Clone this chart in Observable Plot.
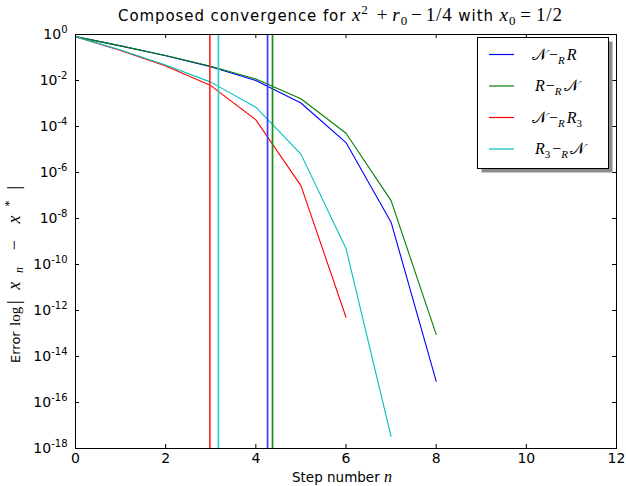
<!DOCTYPE html>
<html><head><meta charset="utf-8">
<script src="https://cdn.jsdelivr.net/npm/d3@7"></script>
<script src="https://cdn.jsdelivr.net/npm/@observablehq/plot@0.6"></script>
<style>body{margin:0;background:#fff}#chart{width:626px;height:486px}</style>
</head><body><div id="chart"></div>
<script>
// ---- data ----
const steps = [0, 1, 2, 3, 4, 5, 6, 7, 8];
const seriesNames = ["N-R", "R-N", "N-R3", "R3-N"];
const errNR   = [8.1e-1, 3.2e-1, 1.2e-1, 4.0e-2, 1.0e-2, 1.05e-3, 2.0e-5, 6.9e-9, 8.5e-16];
const errRN   = [8.1e-1, 3.2e-1, 1.23e-1, 4.2e-2, 1.17e-2, 1.6e-3, 5.1e-5, 6.0e-8, 9.1e-14];
const errNR3  = [8.1e-1, 2.0e-1, 4.3e-2, 6.0e-3, 1.95e-4, 2.7e-7, 5.1e-13];
const errR3N  = [8.1e-1, 2.1e-1, 4.7e-2, 8.5e-3, 6.9e-4, 6.3e-6, 5.0e-10, 3.3e-18];
const crossover = [4.26, 4.37, 2.98, 3.17];
const seriesColors = ["#0000ff", "#008000", "#ff0000", "#00bfbf"];
const vlineColors = ["#3a3aff", "#1a8c1a", "#ff2a2a", "#33cccc"];
const xTicks = [0, 2, 4, 6, 8, 10, 12];
const yTicks = [1, 1e-2, 1e-4, 1e-6, 1e-8, 1e-10, 1e-12, 1e-14, 1e-16, 1e-18];

const allSeries = [errNR, errRN, errNR3, errR3N];
const rows = [];
allSeries.forEach((vals, i) => vals.forEach((v, j) => rows.push({series: seriesNames[i], n: steps[j], err: v})));

const W = 626, H = 486, mL = 75, mR = 10, mT = 34, mB = 38;
const pw = W - mL - mR, ph = H - mT - mB;
const SANS = "DejaVu Sans", SERIF = "Liberation Serif";

const plot = Plot.plot({
  width: W, height: H,
  marginLeft: mL, marginRight: mR, marginTop: mT, marginBottom: mB,
  style: {fontFamily: SANS, fontSize: "12px", background: "white", color: "black", overflow: "visible"},
  x: {domain: [0, 12]},
  y: {type: "log", domain: [1e-18, 1]},
  color: {domain: seriesNames, range: seriesColors},
  marks: [
    Plot.line(rows, {x: "n", y: "err", z: "series", stroke: "series", strokeWidth: 1.1}),
    ...crossover.map((c, i) => Plot.ruleX([c], {x: d => d, stroke: vlineColors[i], strokeWidth: 1.7})),
    Plot.ruleX(xTicks, {x: d => d, insetTop: ph - 4, stroke: "black"}),
    Plot.ruleX(xTicks, {x: d => d, insetBottom: ph - 4, stroke: "black"}),
    Plot.ruleY(yTicks, {y: d => d, insetRight: pw - 4, stroke: "black"}),
    Plot.ruleY(yTicks, {y: d => d, insetLeft: pw - 4, stroke: "black"}),
    Plot.axisX({ticks: xTicks, tickSize: 0, tickPadding: 5, label: null, fontSize: 14, tickFormat: d => String(d)}),
    Plot.axisY({ticks: yTicks, tickSize: 0, tickPadding: 8, label: null, fontSize: 14,
      tickFormat: d => String(Math.round(Math.log10(d)))}),
    Plot.frame({stroke: "black"})
  ]
});

const svg = d3.select(plot);
// superscript exponents on the log ticks
svg.selectAll("g[aria-label='y-axis tick label'] text").each(function () {
  const e = this.textContent;
  const t = d3.select(this);
  t.text("");
  t.append("tspan").text("10");
  t.append("tspan").attr("dy", -6).attr("font-size", 10).text(e);
});

function rich(parent, parts, o) {
  const t = parent.append("text").attr("x", o.x).attr("y", o.y)
    .attr("text-anchor", o.anchor || "start")
    .attr("font-family", o.font || SANS).attr("font-size", o.size || 12).attr("fill", "black");
  if (o.rotate) t.attr("transform", `rotate(${o.rotate},${o.x},${o.y})`);
  if (o.length) t.attr("textLength", o.length).attr("lengthAdjust", "spacing");
  let prev = 0;
  for (const p of parts) {
    const s = t.append("tspan").text(p.t);
    if (p.font) s.attr("font-family", p.font);
    if (p.italic) s.attr("font-style", "italic");
    if (p.size) s.attr("font-size", p.size);
    const shift = p.shift || 0;
    if (shift !== prev) s.attr("dy", shift - prev);
    prev = shift;
    if (p.dx) s.attr("dx", p.dx);
  }
  return t;
}

const extra = svg.append("g");
// title
const M = 19, MS = 13;
rich(extra, [
  {t: "Composed convergence for "},
  {t: "x", font: SERIF, italic: true, size: M},
  {t: "2", font: SERIF, size: MS, shift: -7},
  {t: "+", font: SERIF, size: M, shift: 0, dx: 8},
  {t: "r", font: SERIF, italic: true, size: M, dx: 4},
  {t: "0", font: SERIF, size: MS, shift: 4},
  {t: "−", font: SERIF, size: M, shift: 0, dx: 3},
  {t: "1/4", font: SERIF, size: M, dx: 3},
  {t: " with ", font: SANS},
  {t: "x", font: SERIF, italic: true, size: M},
  {t: "0", font: SERIF, size: MS, shift: 4},
  {t: "=", font: SERIF, size: M, shift: 0, dx: 4},
  {t: "1/2", font: SERIF, size: M, dx: 4}
], {x: 118, y: 21, anchor: "start", size: 15, length: 444});

// x label
rich(extra, [
  {t: "Step number "},
  {t: "n", font: SERIF, italic: true, size: 16}
], {x: 342, y: 482, anchor: "middle", size: 13.5});

// y label
rich(extra, [{t: "Error"}], {x: 20, y: 363, anchor: "start", rotate: -90, size: 13});
rich(extra, [{t: "log"}], {x: 20, y: 326, anchor: "start", rotate: -90, size: 15, font: SERIF});
rich(extra, [
  {t: "|", font: SERIF, size: 18},
  {t: "x", font: SERIF, italic: true, size: 18, dx: 2},
  {t: "n", font: SERIF, italic: true, size: 12, shift: 3},
  {t: "−", font: SERIF, size: 18, shift: 0, dx: 8},
  {t: "x", font: SERIF, italic: true, size: 18, dx: 8},
  {t: "*", font: SERIF, size: 13, shift: -7},
  {t: "|", font: SERIF, size: 18, shift: 0, dx: 2}
], {x: 20, y: 304, anchor: "start", rotate: -90, size: 18, font: SERIF, length: 118});

// legend
const lg = extra.append("g");
const bx = 477.5, by = 37.5, bw = 131, bh = 131;
lg.append("rect").attr("x", bx + 4).attr("y", by + 4).attr("width", bw).attr("height", bh).attr("fill", "#8c8c8c");
lg.append("rect").attr("x", bx).attr("y", by).attr("width", bw).attr("height", bh).attr("fill", "white").attr("stroke", "black");
const legendLabels = [
  [{t: "𝒩"}, {t: "−", dx: 2}, {t: "R", italic: true, size: 11, shift: 4}, {t: "R", italic: true, shift: 0, dx: 2}],
  [{t: "R", italic: true}, {t: "−", dx: 1}, {t: "R", italic: true, size: 11, shift: 4}, {t: "𝒩", shift: 0, dx: 2}],
  [{t: "𝒩"}, {t: "−", dx: 2}, {t: "R", italic: true, size: 11, shift: 4}, {t: "R", italic: true, shift: 0, dx: 2}, {t: "3", size: 11, shift: 4}],
  [{t: "R", italic: true}, {t: "3", size: 11, shift: 4}, {t: "−", shift: 0, dx: 2}, {t: "R", italic: true, size: 11, shift: 4}, {t: "𝒩", shift: 0, dx: 2}]
];
const legendX = [532, 535, 532, 535];
seriesNames.forEach((s, i) => {
  const yy = 54.5 + i * 31.5;
  lg.append("line").attr("x1", 489).attr("x2", 514).attr("y1", yy).attr("y2", yy)
    .attr("stroke", seriesColors[i]).attr("stroke-width", 1.2);
  rich(lg, legendLabels[i], {x: legendX[i], y: yy + 5, font: SERIF, size: 16});
});

document.getElementById("chart").appendChild(plot);
</script></body></html>
